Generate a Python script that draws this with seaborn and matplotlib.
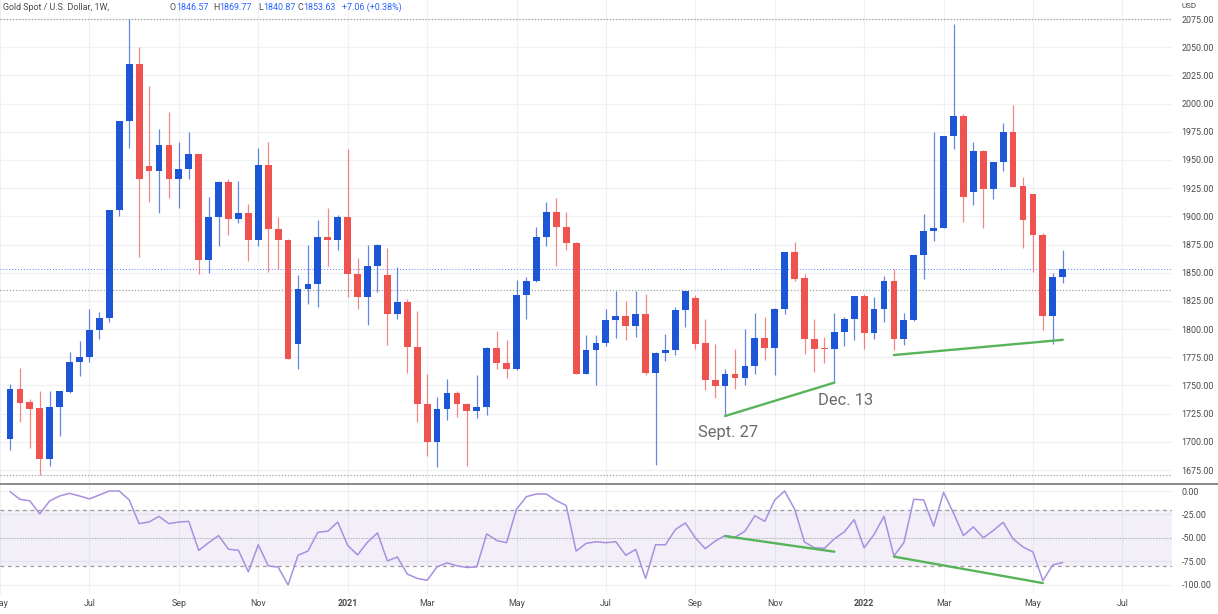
import matplotlib
matplotlib.use("Agg")
import matplotlib.pyplot as plt
import matplotlib.dates as mdates
from matplotlib import font_manager
from matplotlib.lines import Line2D
import numpy as np
import pandas as pd
import seaborn as sns

# ---------------- data (weekly XAU/USD) ----------------
week_start = "2020-05-11"
opens = [1702.8, 1747.2, 1735.3, 1730.0, 1685.1, 1730.6, 1744.2, 1770.9, 1775.3, 1799.0,
         1809.9, 1905.5, 1984.5, 2035.1, 1944.5, 1940.4, 1963.2, 1933.0, 1941.6, 1954.9,
         1861.7, 1899.6, 1930.6, 1898.1, 1902.8, 1878.6, 1945.4, 1889.2, 1878.8, 1787.0,
         1835.3, 1840.4, 1881.8, 1878.8, 1899.6, 1849.3, 1828.6, 1856.1, 1848.4, 1813.8,
         1824.1, 1784.2, 1733.9, 1699.8, 1728.9, 1743.3, 1733.9, 1727.4, 1730.9, 1783.6,
         1770.3, 1764.3, 1830.6, 1842.8, 1881.8, 1904.0, 1890.7, 1876.8, 1760.5, 1781.8,
         1787.7, 1807.8, 1811.7, 1802.5, 1813.8, 1761.4, 1779.1, 1781.2, 1816.7, 1827.7,
         1787.7, 1754.6, 1749.6, 1760.5, 1756.9, 1767.3, 1792.5, 1783.3, 1818.2, 1868.5,
         1845.7, 1791.6, 1783.6, 1782.7, 1797.5, 1808.7, 1829.4, 1796.9, 1818.2, 1842.3,
         1791.6, 1807.8, 1865.5, 1886.8, 1889.8, 1971.2, 1988.9, 1921.7, 1958.1, 1924.7,
         1948.4, 1974.4, 1926.8, 1919.7, 1883.9, 1811.7, 1846.57]
highs = [1751.6, 1765.8, 1737.7, 1745.1, 1744.8, 1745.5, 1779.7, 1789.2, 1818.2, 1815.2,
         1905.5, 1984.5, 2075.0, 2049.9, 2015.8, 1977.4, 1992.7, 1966.1, 1974.4, 1955.5,
         1917.3, 1931.5, 1933.0, 1931.5, 1911.4, 1960.2, 1966.1, 1899.6, 1880.0, 1848.4,
         1875.0, 1896.6, 1907.5, 1901.6, 1959.6, 1863.5, 1875.0, 1875.5, 1872.0, 1855.2,
         1826.5, 1815.8, 1760.5, 1739.8, 1755.5, 1744.8, 1734.5, 1759.0, 1784.0, 1798.1,
         1790.1, 1843.9, 1846.3, 1890.7, 1912.9, 1916.4, 1904.0, 1877.4, 1795.1, 1795.0,
         1818.2, 1833.6, 1825.0, 1833.6, 1831.5, 1779.5, 1796.0, 1819.7, 1834.0, 1830.0,
         1808.7, 1787.1, 1764.3, 1782.1, 1800.4, 1814.3, 1810.8, 1818.5, 1868.8, 1877.4,
         1849.3, 1808.7, 1793.0, 1814.3, 1810.8, 1829.6, 1831.5, 1828.5, 1847.2, 1853.1,
         1814.3, 1865.8, 1902.5, 1974.4, 1971.5, 2070.3, 1990.7, 1966.1, 1958.5, 1948.6,
         1982.4, 1998.7, 1935.0, 1920.0, 1884.8, 1850.1, 1869.77]
lows = [1692.5, 1717.6, 1694.5, 1670.3, 1678.6, 1705.2, 1743.0, 1758.1, 1770.9, 1791.0,
        1806.4, 1900.4, 1960.8, 1864.0, 1912.3, 1903.4, 1916.4, 1907.0, 1933.0, 1849.3,
        1849.9, 1873.5, 1883.3, 1894.5, 1860.2, 1873.8, 1850.7, 1853.1, 1773.8, 1765.0,
        1822.6, 1819.7, 1856.0, 1870.0, 1828.6, 1818.2, 1803.4, 1833.0, 1785.6, 1808.7,
        1761.4, 1717.6, 1687.4, 1677.7, 1719.0, 1722.0, 1678.6, 1721.4, 1724.0, 1764.3,
        1756.7, 1764.0, 1809.3, 1842.0, 1873.8, 1856.0, 1870.0, 1760.5, 1760.0, 1750.7,
        1784.8, 1792.0, 1790.0, 1793.0, 1759.6, 1679.7, 1771.4, 1776.8, 1801.9, 1782.7,
        1745.7, 1738.9, 1722.9, 1746.6, 1750.1, 1760.5, 1772.9, 1759.0, 1813.2, 1842.8,
        1778.3, 1762.0, 1770.3, 1752.5, 1785.0, 1790.0, 1782.7, 1791.0, 1806.4, 1781.2,
        1786.2, 1807.5, 1844.8, 1878.3, 1889.5, 1959.6, 1895.1, 1910.5, 1890.0, 1915.2,
        1940.1, 1926.0, 1872.3, 1850.7, 1799.0, 1787.1, 1840.87]
closes = [1747.2, 1734.8, 1729.4, 1685.1, 1730.6, 1744.8, 1770.9, 1775.3, 1799.0, 1809.9,
          1905.5, 1984.5, 2035.1, 1932.7, 1940.4, 1963.2, 1933.0, 1941.6, 1954.9, 1861.7,
          1899.6, 1930.6, 1898.1, 1902.8, 1878.6, 1945.4, 1889.2, 1878.8, 1773.8, 1835.3,
          1840.4, 1881.8, 1878.8, 1899.6, 1849.3, 1828.6, 1856.1, 1875.0, 1813.8, 1824.1,
          1784.2, 1733.9, 1699.8, 1728.9, 1743.3, 1733.9, 1727.4, 1730.9, 1783.6, 1770.3,
          1764.3, 1830.6, 1842.8, 1881.8, 1904.0, 1890.7, 1876.8, 1760.5, 1781.8, 1787.7,
          1807.8, 1811.7, 1802.5, 1813.8, 1761.4, 1779.1, 1781.2, 1816.7, 1833.9, 1787.1,
          1754.6, 1749.6, 1760.5, 1756.9, 1767.3, 1792.5, 1783.3, 1818.2, 1868.5, 1844.8,
          1791.6, 1782.7, 1782.7, 1797.5, 1808.7, 1829.4, 1796.9, 1818.2, 1842.3, 1791.6,
          1807.8, 1865.5, 1886.8, 1889.8, 1971.2, 1988.9, 1917.3, 1958.1, 1924.7, 1948.4,
          1974.4, 1926.2, 1896.6, 1883.3, 1811.7, 1846.3, 1853.63]
williams_r = [-0.7, -8.8, -10.5, -24.2, -10.5, -5.3, -2.5, -5.3, -8.4, -4.2,
              0.0, 0.0, -9.5, -34.7, -33.0, -27.0, -34.7, -33.0, -32.3, -63.2,
              -55.0, -47.4, -62.0, -63.0, -86.0, -57.2, -79.6, -81.0, -100.0, -68.4,
              -63.9, -43.9, -42.8, -33.0, -57.9, -68.0, -54.4, -44.6, -74.4, -70.2,
              -88.4, -93.0, -95.0, -80.7, -76.5, -79.6, -81.4, -80.7, -45.6, -52.6,
              -55.0, -19.3, -6.0, -3.2, -3.2, -10.2, -15.4, -63.9, -55.8, -54.0,
              -55.0, -54.0, -68.4, -62.1, -93.0, -57.2, -57.2, -41.0, -34.0, -49.8,
              -61.4, -53.3, -47.4, -49.1, -42.8, -26.3, -32.3, -9.5, 0.0, -19.3,
              -54.4, -60.4, -61.0, -50.9, -43.5, -30.5, -60.4, -46.3, -27.0, -69.1,
              -55.0, -8.8, -9.5, -37.5, -1.4, -23.5, -47.4, -38.2, -49.8, -42.1,
              -33.3, -50.9, -59.6, -64.9, -95.4, -78.6, -76.1]

header_title = "Gold Spot / U.S. Dollar, 1W,"
header_ohlc = [("O", "1846.57"), ("H", "1869.77"), ("L", "1840.87"), ("C", "1853.63")]
header_change = "+7.06 (+0.38%)"
prev_line_price = 1834.4

# trend lines (dates of the weekly bars and levels)
price_line1_dates = ["2021-09-27", "2021-12-13"]
price_line1_vals = [1722.9, 1752.5]
price_line2_dates = ["2022-01-24", "2022-05-23"]
price_line2_vals = [1777.0, 1790.5]
wr_line1_dates = ["2021-09-27", "2021-12-13"]
wr_line1_vals = [-48.0, -64.6]
wr_line2_dates = ["2022-01-24", "2022-05-09"]
wr_line2_vals = [-69.8, -98.0]

tick_dates = ["2020-05-04", "2020-07-06", "2020-09-07", "2020-11-02", "2021-01-04",
              "2021-03-01", "2021-05-03", "2021-07-05", "2021-09-06", "2021-11-01",
              "2022-01-03", "2022-02-28", "2022-05-02", "2022-07-04"]
tick_labels = ["May", "Jul", "Sep", "Nov", "2021", "Mar", "May", "Jul", "Sep", "Nov",
               "2022", "Mar", "May", "Jul"]
price_ticks = list(range(1675, 2076, 25))
wr_ticks = [0, -25, -50, -75, -100]

# ---------------- style ----------------
sns.set_theme(style="white")
names = {f.name for f in font_manager.fontManager.ttflist}
if "Liberation Sans Narrow" in names:
    FONT, K = "Liberation Sans Narrow", 1.0
else:
    FONT, K = "Roboto", 0.82
plt.rcParams["font.family"] = [FONT, "DejaVu Sans"]

BLUE = "#1c56d6"
RED = "#ef5350"
GRID = "#eef0f4"
TXT = "#4a4a4a"
GREEN = "#58b45a"
PURPLE = "#a88fe0"

W, H = 1218, 614
fig = plt.figure(figsize=(W / 100, H / 100), dpi=100)
fig.patch.set_facecolor("white")


def box(x0, y0, x1, y1):
    return [x0 / W, 1 - y1 / H, (x1 - x0) / W, (y1 - y0) / H]


ax = fig.add_axes(box(0, 0, 1172, 483))
ax2 = fig.add_axes(box(0, 484, 1172, 594))

dates = pd.date_range(week_start, periods=len(opens), freq="7D")
x = mdates.date2num(dates)
t0 = x[0]
xl = (t0 - 7 * 1.007, t0 + 7 * 117.0)


def dn(lst):
    return mdates.date2num(pd.to_datetime(lst))


o, h, l, c = map(np.asarray, (opens, highs, lows, closes))
up = c >= o
col = np.where(up, BLUE, RED)

# ---------------- price pane ----------------
ax.vlines(x, l, h, colors=col, lw=0.9, alpha=0.7, zorder=3)
ax.bar(x, np.maximum(np.abs(c - o), 0.9), bottom=np.minimum(o, c), width=4.8,
       color=col, linewidth=0, zorder=4)

ax.axhline(h.max(), color="#a0a0a0", ls=(0, (1, 1.5)), lw=0.9, zorder=2)
ax.axhline(l.min(), color="#a0a0a0", ls=(0, (1, 1.5)), lw=0.9, zorder=2)
ax.axhline(prev_line_price, color="#a0a0a0", ls=(0, (1, 1.5)), lw=0.9, zorder=2)
ax.axhline(closes[-1], color="#2962ff", ls=(0, (1, 2)), lw=0.7, alpha=0.8, zorder=2)

sns.lineplot(x=dn(price_line1_dates), y=price_line1_vals, ax=ax, color=GREEN, lw=1.7, zorder=5)
sns.lineplot(x=dn(price_line2_dates), y=price_line2_vals, ax=ax, color=GREEN, lw=1.7, zorder=5)

ax.text(t0 + 7 * 69.3, 1704.3, "Sept. 27", fontsize=14.5 * K, color="#6a6a6a",
        ha="left", va="baseline", zorder=6)
ax.text(t0 + 7 * 81.4, 1733.1, "Dec. 13", fontsize=14.5 * K, color="#6a6a6a",
        ha="left", va="baseline", zorder=6)

ax.set_xlim(*xl)
ax.set_ylim(1663.5, 2091.9)
ax.yaxis.tick_right()
ax.set_yticks(price_ticks)
ax.set_yticklabels([f"{v:.2f}" for v in price_ticks])
ax.set_xticks(dn(tick_dates))
ax.tick_params(axis="x", labelbottom=False, length=0)
ax.tick_params(axis="y", length=0, pad=7, labelsize=7.8 * K, labelcolor=TXT)
ax.grid(True, color=GRID, lw=0.8, zorder=0)
ax.set_xlabel("")
ax.set_ylabel("")
for s in ax.spines.values():
    s.set_visible(False)

# ---------------- Williams %R pane ----------------
ax2.axhspan(-80, -20, color="#7e57c2", alpha=0.09, lw=0, zorder=1)
ax2.axhline(-20, color="#9a9a9a", ls=(0, (3, 3)), lw=0.9, zorder=2)
ax2.axhline(-80, color="#9a9a9a", ls=(0, (3, 3)), lw=0.9, zorder=2)
ax2.axhline(-50, color="#b0b0b0", ls=(0, (1, 1.5)), lw=0.8, zorder=2)
sns.lineplot(x=x, y=williams_r, ax=ax2, color=PURPLE, lw=1.1, zorder=4)
sns.lineplot(x=dn(wr_line1_dates), y=wr_line1_vals, ax=ax2, color=GREEN, lw=1.7, zorder=5)
sns.lineplot(x=dn(wr_line2_dates), y=wr_line2_vals, ax=ax2, color=GREEN, lw=1.7, zorder=5)

ax2.set_xlim(*xl)
ax2.set_ylim(-109.6, 7.45)
ax2.yaxis.tick_right()
ax2.set_yticks(wr_ticks)
ax2.set_yticklabels([f"{v:.2f}" for v in wr_ticks])
ax2.set_xticks(dn(tick_dates))
ax2.set_xticklabels(tick_labels)
for lab in ax2.get_xticklabels():
    if lab.get_text().isdigit():
        lab.set_fontweight("bold")
        lab.set_color("#333333")
ax2.tick_params(axis="x", length=0, pad=3.5, labelsize=7.8 * K, labelcolor=TXT)
ax2.tick_params(axis="y", length=0, pad=7, labelsize=7.8 * K, labelcolor=TXT)
ax2.grid(True, color=GRID, lw=0.8, zorder=0)
ax2.set_xlabel("")
ax2.set_ylabel("")
for s in ax2.spines.values():
    s.set_visible(False)

# pane separator
fig.add_artist(Line2D([0, 1], [1 - 483.5 / H] * 2, color="#8a8a8a", lw=1.4,
                      transform=fig.transFigure))

# ---------------- header ----------------
yh = 1 - 7 / H
fig.text(3 / W, yh, header_title, fontsize=7.8 * K, color=TXT, va="center", ha="left")
hx = [(170, 176), (213, 219), (258, 263), (298, 303)]
for (lab, val), (xa, xb) in zip(header_ohlc, hx):
    fig.text(xa / W, yh, lab, fontsize=7.8 * K, color=TXT, va="center", ha="left")
    fig.text(xb / W, yh, val, fontsize=7.8 * K, color="#2962ff", va="center", ha="left")
fig.text(342 / W, yh, header_change, fontsize=7.8 * K, color="#2962ff", va="center", ha="left")
fig.text(1182 / W, 1 - 6 / H, "USD", fontsize=7 * K, color=TXT, va="center", ha="left")

fig.savefig("out.png", dpi=100, facecolor="white")
